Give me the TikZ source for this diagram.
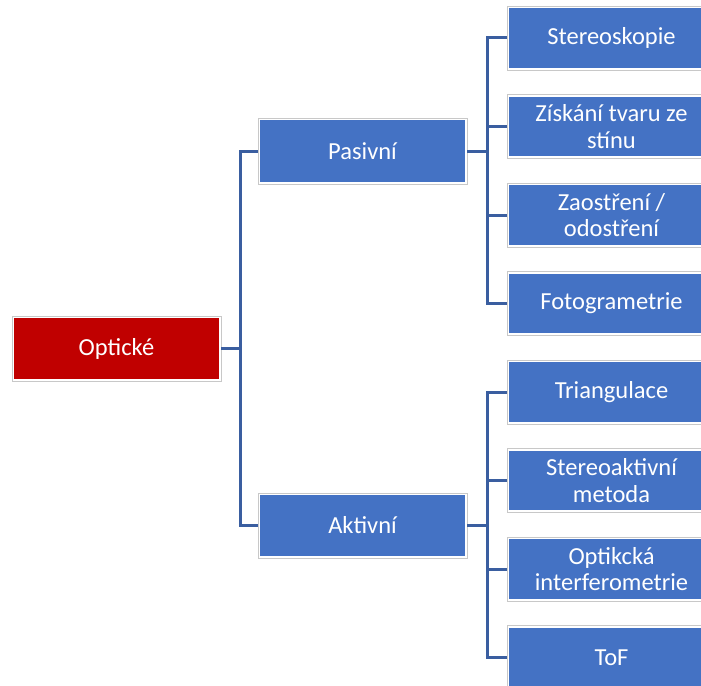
\documentclass[tikz,border=0pt]{standalone}
\usepackage{fontspec}
\setmainfont{Carlito}
\definecolor{boxblue}{RGB}{68,114,196}
\definecolor{boxred}{RGB}{192,0,0}
\definecolor{linkcol}{RGB}{58,94,160}
\definecolor{rimgray}{RGB}{200,200,200}
\tikzset{
  box/.style={rectangle, draw=rimgray, line width=0.9pt, fill=white,
    minimum width=209pt, minimum height=#1, inner sep=0pt, align=center,
    text=white, font=\fontsize{24.5}{26.5}\selectfont},
  bluebox/.style={box=#1, path picture={\fill[boxblue]
    ([shift={(2.2pt,-2.2pt)}]path picture bounding box.north west) rectangle
    ([shift={(-2.2pt,2.2pt)}]path picture bounding box.south east);}},
  redbox/.style={box=#1, path picture={\fill[boxred]
    ([shift={(2.2pt,-2.2pt)}]path picture bounding box.north west) rectangle
    ([shift={(-2.2pt,2.2pt)}]path picture bounding box.south east);}},
  link/.style={draw=linkcol, line width=3pt}
}
\begin{document}
\begin{tikzpicture}[x=1pt,y=-1pt]
\clip (0,0) rectangle (701,685);
\fill[white] (0,0) rectangle (701,685);
\node[redbox=65pt] (opt) at (116.5,348.5) {Optické};
\node[bluebox=66pt] (pas) at (362.5,151) {Pasivní};
\node[bluebox=65pt] (akt) at (362.5,525.5) {Aktivní};
\node[bluebox=64pt] (c1) at (611.5,38) {Stereoskopie};
\node[bluebox=64pt] (c2) at (611.5,126.5) {Získání tvaru ze\\stínu};
\node[bluebox=64pt] (c3) at (611.5,215) {Zaostření /\\odostření};
\node[bluebox=64pt] (c4) at (611.5,303.5) {Fotogrametrie};
\node[bluebox=64pt] (c5) at (611.5,392) {Triangulace};
\node[bluebox=64pt] (c6) at (611.5,480.5) {Stereoaktivní\\metoda};
\node[bluebox=64pt] (c7) at (611.5,569) {Optikcká\\interferometrie};
\node[bluebox=64pt] (c8) at (611.5,657.5) {ToF};
\coordinate (jL) at (240,348.5);
\coordinate (jP) at (487,151);
\coordinate (jA) at (487,525.5);
\draw[link] (opt.east) -- (jL);
\draw[link] (pas.west) -| (jL) |- (akt.west);
\draw[link] (pas.east) -- (jP);
\draw[link] (c1.west) -| (jP) |- (c4.west);
\draw[link] (jP) |- (c2.west);
\draw[link] (jP) |- (c3.west);
\draw[link] (akt.east) -- (jA);
\draw[link] (c5.west) -| (jA) |- (c8.west);
\draw[link] (jA) |- (c6.west);
\draw[link] (jA) |- (c7.west);
\end{tikzpicture}
\end{document}
